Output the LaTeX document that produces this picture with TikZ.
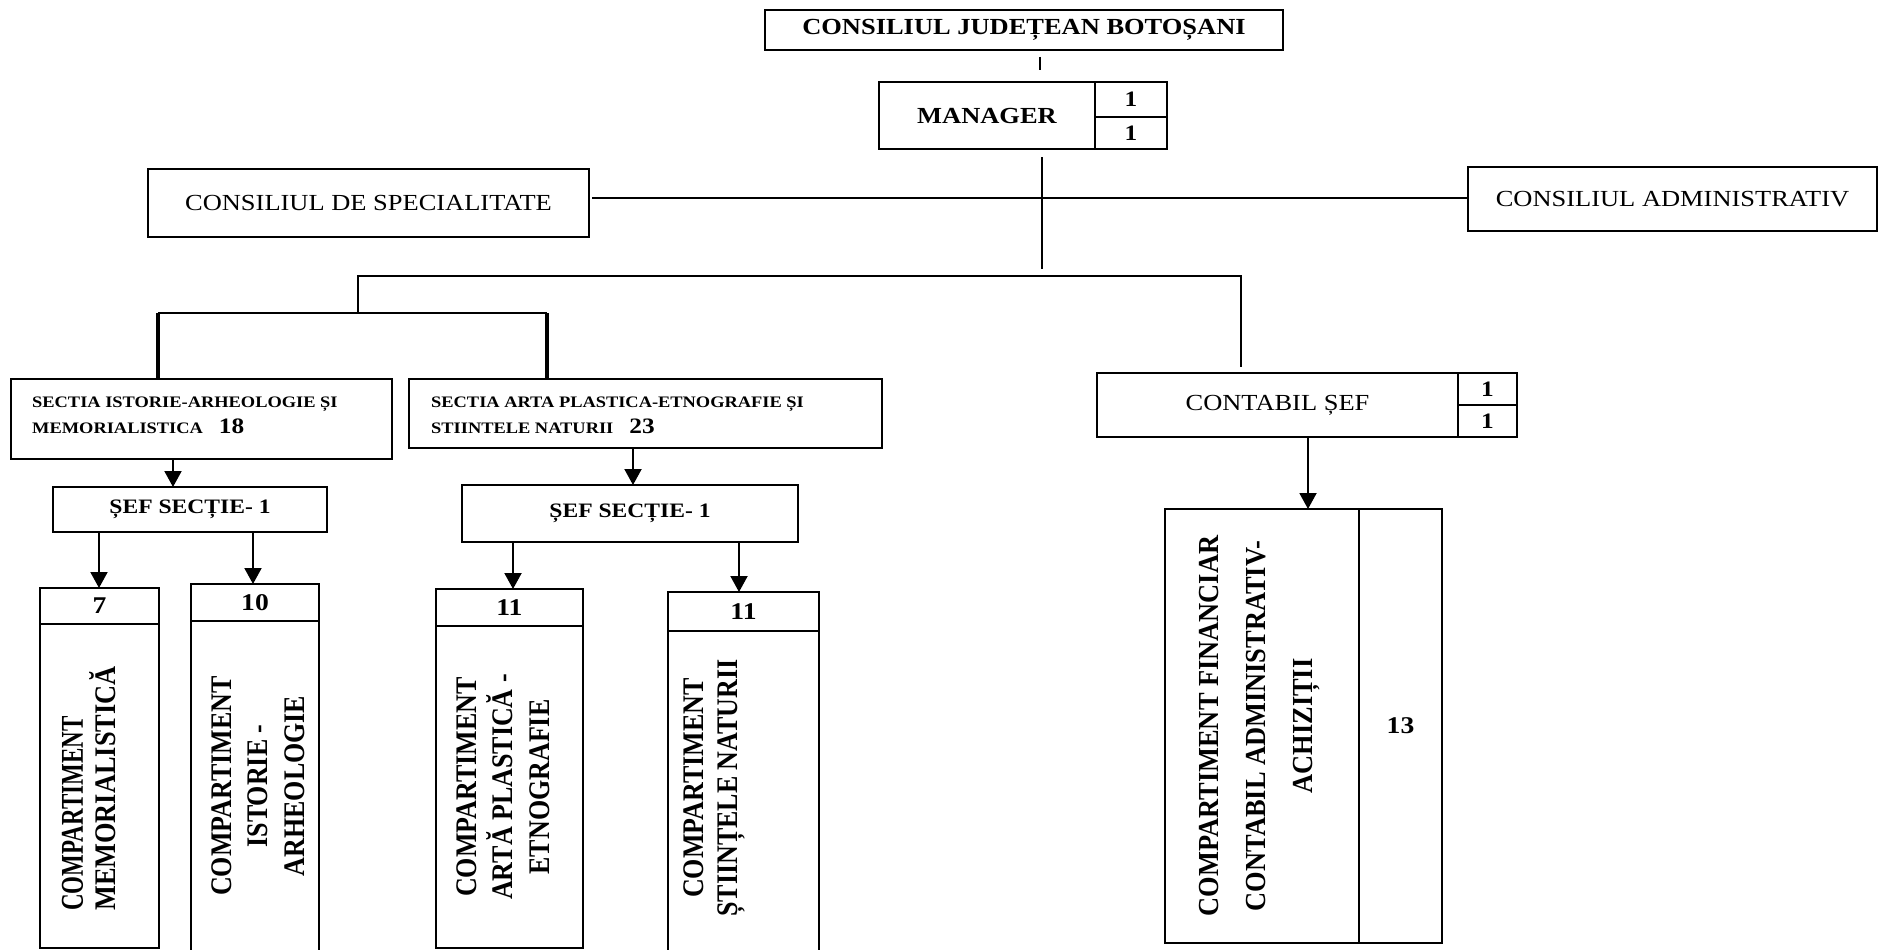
\documentclass[tikz,border=0pt]{standalone}
\usepackage{fontspec}
\setmainfont{Liberation Serif}[FakeStretch=1.15]
\newfontfamily\vfont{Liberation Serif}
\usetikzlibrary{arrows.meta}
\newcommand{\vstr}[2]{\scalebox{1}[#1]{#2}}
\tikzset{
  box/.style 2 args={draw, line width=2pt, inner sep=0pt, outer sep=0pt, minimum width=#1pt, minimum height=#2pt},
  bigb/.style={font=\bfseries\fontsize{23}{26}\selectfont},
  reg/.style={font=\fontsize{23}{27}\selectfont},
  smallb/.style={inner sep=0pt, anchor=base west, font=\bfseries\fontsize{16}{19}\selectfont},
  numf/.style={font=\bfseries\fontsize{22}{26}\selectfont},
  numh/.style={font=\bfseries\fontsize{24}{28}\selectfont},
  sefs/.style={font=\bfseries\fontsize{20.5}{23}\selectfont},
  vtext/.style={rotate=90, align=center, inner sep=0pt},
  arr/.style={line width=2pt, -{Triangle[length=16pt,width=17pt]}},
  conn/.style={line width=2pt},
  thickc/.style={line width=3.3pt},
}
\begin{document}
\begin{tikzpicture}[x=1pt,y=-1pt]
\useasboundingbox (0,0) rectangle (1879,950);
\clip (0,0) rectangle (1879,950);
% top
\node[box={518}{40}, bigb] (cjb) at (1024,30) {CONSILIUL JUDEȚEAN BOTOȘANI};
\node[box={216}{67}, bigb] (mgr) at (987,115.5) {MANAGER};
\node[box={72}{35}, numf] (mgr1) at (1131,99.5) {1};
\node[box={72}{32}, numf] (mgr2) at (1131,133) {1};
\coordinate (t1) at (1040,57);
\coordinate (t2) at (1040,70);
\draw[conn] (t1) -- (t2);
\coordinate (v1) at (1042,157);
\coordinate (v2) at (1042,269);
\draw[conn] (v1) -- (v2);
% councils
\node[box={441}{68}, reg] (cds) at (368.5,203) {CONSILIUL DE SPECIALITATE};
\node[box={409}{64}, reg] (ca) at (1672.5,199) {CONSILIUL ADMINISTRATIV};
\coordinate (h1) at (592,198);
\draw[conn] (h1) -- (h1 -| ca.west);
% main branch
\coordinate (m1) at (358,313);
\coordinate (m2) at (358,276);
\coordinate (m3) at (1241,276);
\coordinate (m4) at (1241,367);
\draw[conn] (m1) -- (m2) -- (m3) -- (m4);
% sections
\node[box={381}{80}] (si) at (201.5,419) {};
\node[smallb] (sit1) at (32,407) {SECTIA ISTORIE-ARHEOLOGIE ȘI};
\node[smallb] (sit2) at (32,433) {MEMORIALISTICA\hspace{16pt}{\fontsize{22}{26}\selectfont 18}};
\node[box={473}{69}] (sa) at (645.5,413.5) {};
\node[smallb] (sat1) at (431,407) {SECTIA ARTA PLASTICA-ETNOGRAFIE ȘI};
\node[smallb] (sat2) at (431,433) {STIINTELE NATURII\hspace{16pt}{\fontsize{22}{26}\selectfont 23}};
% bracket
\coordinate (bl) at (158,313);
\coordinate (br) at (547,313);
\draw[conn] (bl) -- (br);
\draw[thickc] (bl) -- (bl |- si.north);
\draw[thickc] (br) -- (br |- sa.north);
% sef sectie
\node[box={274}{45}, sefs] (sef1) at (190,509.5) {ȘEF SECȚIE- 1};
\node[box={336}{57}, sefs] (sef2) at (630,513.5) {ȘEF SECȚIE- 1};
\draw[arr] (si.south -| 173,0) -- (sef1.north -| 173,0);
\draw[arr] (sa.south -| 633,0) -- (sef2.north -| 633,0);
% compartments
\node[box={119}{36}, numh] (b7h) at (99.5,606) {7};
\node[box={119}{324}] (b7b) at (99.5,786) {};
\node[box={128}{37}, numh] (b10h) at (255,602.5) {10};
\node[box={128}{334}] (b10b) at (255,788) {};
\node[box={147}{37}, numh] (b11ah) at (509.5,607.5) {11};
\node[box={147}{322}] (b11ab) at (509.5,787) {};
\node[box={151}{39}, numh] (b11bh) at (743.5,611.5) {11};
\node[box={151}{324}] (b11bb) at (743.5,793) {};
\draw[arr] (sef1.south -| 99,0) -- (b7h.north -| 99,0);
\draw[arr] (sef1.south -| 253,0) -- (b10h.north -| 253,0);
\draw[arr] (sef2.south -| 513,0) -- (b11ah.north -| 513,0);
\draw[arr] (sef2.south -| 739,0) -- (b11bh.north -| 739,0);
\node[vtext, align=left, anchor=west, font=\vfont\bfseries\fontsize{23}{33}\selectfont] (t7) at (89,911) {\vstr{1.38}{COMPARTIMENT}\\\scalebox{1.145}[1.3]{MEMORIALISTICĂ}};
\node[vtext, font=\vfont\bfseries\fontsize{26}{36.5}\selectfont] (t10) at (258,786) {\vstr{1.15}{COMPARTIMENT}\\\vstr{1.15}{ISTORIE -}\\\vstr{1.15}{ARHEOLOGIE}};
\node[vtext, font=\vfont\bfseries\fontsize{26}{36.5}\selectfont] (t11a) at (503,787) {\vstr{1.15}{COMPARTIMENT}\\\vstr{1.15}{ARTĂ PLASTICĂ -}\\\vstr{1.15}{ETNOGRAFIE}};
\node[vtext, font=\vfont\bfseries\fontsize{26}{34}\selectfont] (t11b) at (714,788) {\vstr{1.15}{COMPARTIMENT}\\\vstr{1.15}{ȘTIINȚELE NATURII}};
% contabil
\node[box={361}{64}, reg] (cs) at (1277.5,405) {CONTABIL ȘEF};
\node[box={59}{32}, numf] (cs1) at (1487.5,389) {1};
\node[box={59}{32}, numf] (cs2) at (1487.5,421) {1};
\node[box={194}{434}] (finl) at (1262,726) {};
\node[box={83}{434}, numh] (finr) at (1400.5,726) {13};
\draw[arr] (cs.south -| 1308,0) -- (finl.north -| 1308,0);
\node[vtext, font=\vfont\bfseries\fontsize{26.4}{47}\selectfont] (tfin) at (1260,726) {\vstr{1.1}{COMPARTIMENT FINANCIAR}\\\vstr{1.1}{CONTABIL ADMINISTRATIV-}\\\vstr{1.1}{ACHIZIȚII}};
\end{tikzpicture}
\end{document}
